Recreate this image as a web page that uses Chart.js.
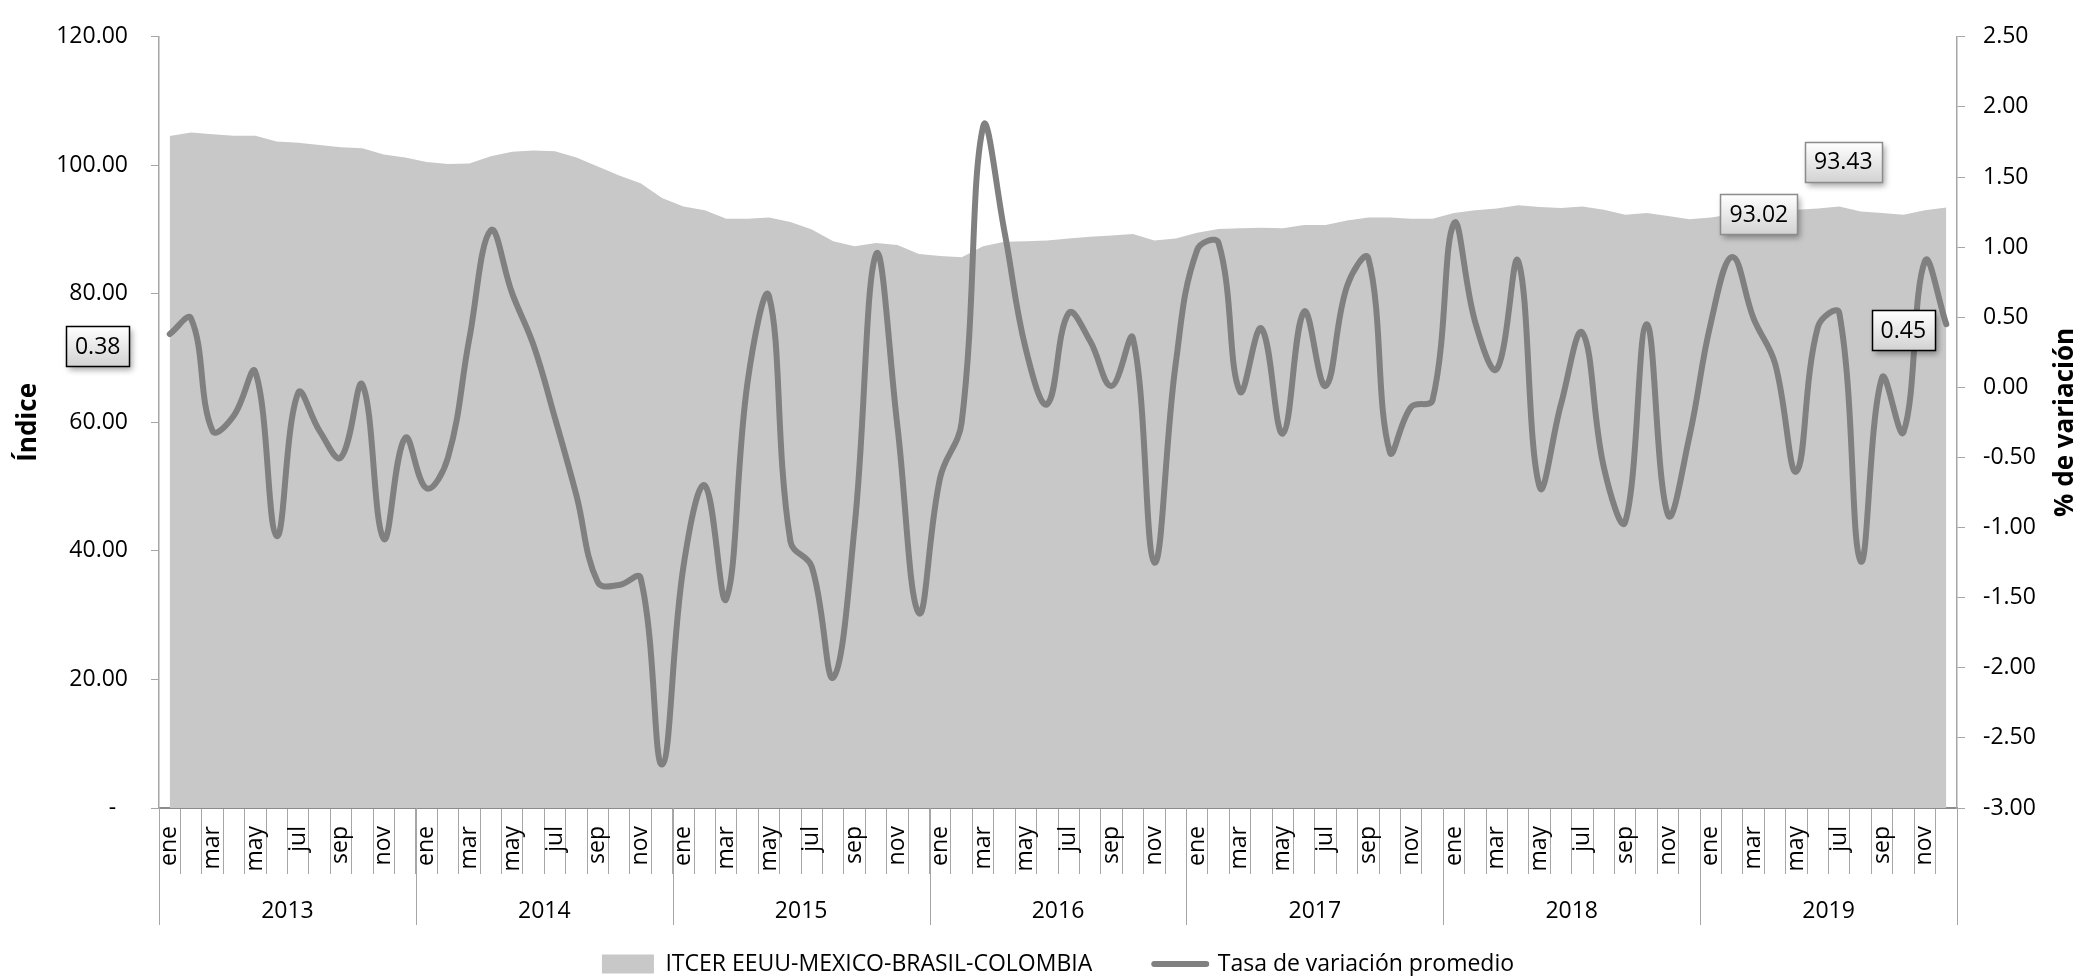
<!DOCTYPE html>
<html lang="es">
<head>
<meta charset="utf-8">
<title>ITCER EEUU-MEXICO-BRASIL-COLOMBIA</title>
<script src="https://cdn.jsdelivr.net/npm/chart.js@4.4.1/dist/chart.umd.min.js"></script>
<style>
  html, body { margin: 0; padding: 0; background: #fff; }
  #wrap { position: relative; width: 2082px; height: 976px; }
</style>
</head>
<body>
<div id="wrap"><canvas id="itcer"></canvas></div>
<script>
// categorías: meses de 2013 a 2019
var meses = ["ene", "feb", "mar", "abr", "may", "jun", "jul", "ago", "sep", "oct", "nov", "dic"];
var anios = ["2013", "2014", "2015", "2016", "2017", "2018", "2019"];

// ITCER EEUU-MEXICO-BRASIL-COLOMBIA (eje izquierdo)
var indice = [
  104.55, 105.12, 104.84, 104.60, 104.60, 103.70, 103.50, 103.15, 102.80, 102.65, 101.70, 101.20,
  100.50, 100.20, 100.30, 101.40, 102.10, 102.30, 102.20, 101.20, 99.80, 98.40, 97.20, 94.90,
  93.60, 93.00, 91.70, 91.70, 91.90, 91.20, 90.00, 88.20, 87.40, 87.90, 87.60, 86.20,
  85.90, 85.70, 87.40, 88.10, 88.20, 88.30, 88.60, 88.90, 89.10, 89.30, 88.30, 88.60,
  89.50, 90.10, 90.20, 90.30, 90.20, 90.70, 90.70, 91.40, 91.90, 91.90, 91.70, 91.70,
  92.60, 93.00, 93.30, 93.80, 93.50, 93.35, 93.60, 93.10, 92.30, 92.60, 92.10, 91.60,
  91.90, 92.40, 92.80, 93.00, 93.10, 93.30, 93.60, 92.80, 92.60, 92.30, 93.02, 93.43
];

// tasa de variación promedio, % (eje derecho)
var tasa = [
  0.38, 0.49, -0.31, -0.20, 0.11, -1.06, -0.04, -0.31, -0.50, 0.02, -1.08, -0.36,
  -0.72, -0.50, 0.35, 1.12, 0.67, 0.30, -0.22, -0.77, -1.39, -1.41, -1.36, -2.69,
  -1.28, -0.70, -1.51, 0.04, 0.65, -1.10, -1.28, -2.07, -0.99, 0.95, -0.28, -1.61,
  -0.64, -0.25, 1.86, 1.11, 0.27, -0.12, 0.53, 0.33, 0.01, 0.35, -1.25, 0.17,
  0.98, 1.03, -0.03, 0.42, -0.33, 0.54, 0.01, 0.72, 0.92, -0.46, -0.14, -0.09,
  1.17, 0.46, 0.13, 0.90, -0.71, -0.12, 0.39, -0.57, -0.96, 0.45, -0.91, -0.35,
  0.46, 0.93, 0.49, 0.17, -0.60, 0.43, 0.53, -1.24, 0.07, -0.32, 0.90, 0.45
];

// ejes: [mínimo, máximo, paso]
var ejeIndice = [0, 120, 20];
var ejeTasa = [-3, 2.5, 0.5];

// valores rotulados: serie, punto y desplazamiento de la caja
var rotulos = [
  { serie: 1, punto: 0,  dx: -72,  dy: 12,  borde: "#000000" },
  { serie: 1, punto: 83, dx: -43,  dy: 6,   borde: "#000000" },
  { serie: 0, punto: 82, dx: -166, dy: 4,   borde: "#8c8c8c" },
  { serie: 0, punto: 83, dx: -103, dy: -46, borde: "#8c8c8c" }
];

var etiquetas = [];
anios.forEach(function () {
  meses.forEach(function (m) { etiquetas.push(m); });
});

var FUENTE = "'Open Sans', sans-serif";
Chart.defaults.font.family = FUENTE;
Chart.defaults.font.size = 23;
Chart.defaults.color = "#000";

// años bajo los meses, con sus separadores largos
var gruposAnio = {
  id: "gruposAnio",
  afterDraw: function (chart) {
    var ctx = chart.ctx, x = chart.scales.x;
    var paso = x.getPixelForValue(1) - x.getPixelForValue(0);
    var y0 = x.top, y1 = x.top + 117;
    ctx.save();
    ctx.strokeStyle = "#a6a6a6";
    ctx.lineWidth = 1;
    ctx.fillStyle = "#000";
    ctx.font = "23px " + FUENTE;
    ctx.textAlign = "center";
    ctx.textBaseline = "middle";
    anios.forEach(function (a, k) {
      var izq = x.getPixelForValue(k * 12) - paso / 2;
      var der = x.getPixelForValue(k * 12 + 11) + paso / 2;
      ctx.beginPath();
      ctx.moveTo(Math.round(izq) + 0.5, y0);
      ctx.lineTo(Math.round(izq) + 0.5, y1);
      if (k === anios.length - 1) {
        ctx.moveTo(Math.round(der) + 0.5, y0);
        ctx.lineTo(Math.round(der) + 0.5, y1);
      }
      ctx.stroke();
      ctx.fillText(a, (izq + der) / 2, x.top + 103);
    });
    ctx.restore();
  }
};

// títulos de los dos ejes verticales, ambos leídos de abajo hacia arriba
var titulosEjes = {
  id: "titulosEjes",
  afterDraw: function (chart) {
    var ctx = chart.ctx, a = chart.chartArea;
    var cy = (a.top + a.bottom) / 2;
    ctx.save();
    ctx.font = "bold 26px " + FUENTE;
    ctx.fillStyle = "#000";
    ctx.textAlign = "center";
    ctx.textBaseline = "middle";
    [[chart.scales.y.left + 29, "Índice"], [chart.scales.y1.right - 16, "% de variación"]].forEach(function (t) {
      ctx.save();
      ctx.translate(t[0], cy);
      ctx.rotate(-Math.PI / 2);
      ctx.fillText(t[1], 0, 0);
      ctx.restore();
    });
    ctx.restore();
  }
};

// cajas con el valor de algunos puntos
var cajasValor = {
  id: "cajasValor",
  afterDatasetsDraw: function (chart) {
    var ctx = chart.ctx;
    ctx.save();
    ctx.font = "23px " + FUENTE;
    rotulos.forEach(function (r) {
      var p = chart.getDatasetMeta(r.serie).data[r.punto];
      var txt = chart.data.datasets[r.serie].data[r.punto].toFixed(2);
      var w = Math.round(ctx.measureText(txt).width + 18), h = 40;
      var cx = p.x + r.dx, cy = p.y + r.dy;
      var bx = Math.round(cx - w / 2) + 0.5, by = Math.round(cy - h / 2) + 0.5;
      ctx.save();
      ctx.shadowColor = "rgba(0,0,0,0.35)";
      ctx.shadowBlur = 6;
      ctx.shadowOffsetX = 2;
      ctx.shadowOffsetY = 3;
      var g = ctx.createLinearGradient(0, by, 0, by + h);
      g.addColorStop(0, "#ffffff");
      g.addColorStop(1, "#d2d2d2");
      ctx.fillStyle = g;
      ctx.fillRect(bx, by, w, h);
      ctx.restore();
      ctx.lineWidth = 1.5;
      ctx.strokeStyle = r.borde;
      ctx.strokeRect(bx, by, w, h);
      ctx.fillStyle = "#000";
      ctx.textAlign = "center";
      ctx.textBaseline = "middle";
      ctx.fillText(txt, cx, cy + 1);
    });
    ctx.restore();
  }
};

new Chart(document.getElementById("itcer"), {
  type: "line",
  data: {
    labels: etiquetas,
    datasets: [
      {
        label: "ITCER EEUU-MEXICO-BRASIL-COLOMBIA",
        data: indice,
        yAxisID: "y",
        fill: "origin",
        backgroundColor: "#c8c8c8",
        borderColor: "rgba(0,0,0,0)",
        borderWidth: 0,
        pointRadius: 0,
        tension: 0,
        order: 2
      },
      {
        label: "Tasa de variación promedio",
        data: tasa,
        yAxisID: "y1",
        fill: false,
        borderColor: "#808080",
        borderWidth: 6,
        borderCapStyle: "round",
        borderJoinStyle: "round",
        pointRadius: 0,
        tension: 0.4,
        order: 1
      }
    ]
  },
  options: {
    responsive: true,
    maintainAspectRatio: false,
    animation: false,
    events: [],
    layout: { padding: { top: 26, left: 0, right: 0, bottom: -9.5 } },
    plugins: {
      tooltip: { enabled: false },
      legend: {
        position: "bottom",
        fullSize: false,
        labels: {
          usePointStyle: true,
          pointStyleWidth: 52,
          boxHeight: 19,
          padding: 62,
          color: "#000",
          font: { size: 23 },
          generateLabels: function (chart) {
            return chart.data.datasets.map(function (ds, i) {
              return {
                text: ds.label,
                datasetIndex: i,
                fillStyle: i === 0 ? ds.backgroundColor : "rgba(0,0,0,0)",
                strokeStyle: ds.borderColor,
                lineWidth: i === 0 ? 0 : 6,
                lineCap: "round",
                pointStyle: i === 0 ? "rect" : "line",
                fontColor: "#000",
                hidden: false
              };
            });
          }
        }
      }
    },
    scales: {
      x: {
        type: "category",
        offset: true,
        grid: { offset: true, drawOnChartArea: false, tickLength: 66, color: "#a6a6a6", lineWidth: 1 },
        border: { color: "#8c8c8c", width: 2 },
        ticks: {
          autoSkip: false,
          minRotation: 90,
          maxRotation: 90,
          padding: -48,
          color: "#000",
          callback: function (v, i) { return i % 2 === 0 ? etiquetas[i] : ""; }
        },
        afterFit: function (s) { s.height = 82.5; }
      },
      y: {
        position: "left",
        min: ejeIndice[0],
        max: ejeIndice[1],
        grid: { drawOnChartArea: false, tickLength: 8, color: "#a6a6a6" },
        border: { color: "#a6a6a6", width: 1.5 },
        ticks: {
          stepSize: ejeIndice[2],
          padding: 23,
          color: "#000",
          callback: function (v) { return v === 0 ? "-  " : v.toFixed(2); }
        },
        afterFit: function (s) { s.width = 159; }
      },
      y1: {
        position: "right",
        min: ejeTasa[0],
        max: ejeTasa[1],
        grid: { drawOnChartArea: false, tickLength: 8, color: "#a6a6a6" },
        border: { color: "#a6a6a6", width: 1.5 },
        ticks: {
          stepSize: ejeTasa[2],
          padding: 18,
          color: "#000",
          callback: function (v) { return v.toFixed(2); }
        },
        afterFit: function (s) { s.width = 125; }
      }
    }
  },
  plugins: [gruposAnio, titulosEjes, cajasValor]
});
</script>
</body>
</html>
